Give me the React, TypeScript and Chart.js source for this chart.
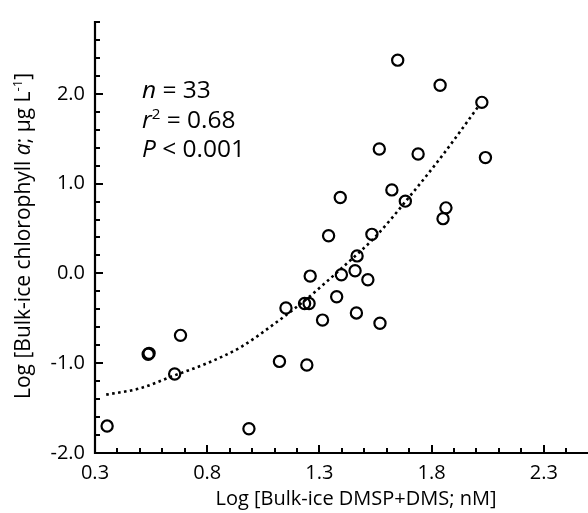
import React, { useEffect, useRef } from "react";
import { Chart, registerables } from "chart.js";

Chart.register(...registerables);

// ---- Data ----
const dmsLog = [
  0.354, 0.537, 0.541, 0.681, 0.655, 0.986, 1.122, 1.151, 1.259, 1.234, 1.254,
  1.314, 1.244, 1.377, 1.398, 1.459, 1.468, 1.516, 1.465, 1.57, 1.649, 1.838,
  2.024, 1.567, 1.74, 2.04, 1.393, 1.623, 1.683, 1.864, 1.851, 1.341, 1.534,
];
const chlLog = [
  -1.7, -0.9, -0.89, -0.69, -1.12, -1.73, -0.98, -0.385, -0.03, -0.335, -0.335,
  -0.52, -1.02, -0.26, -0.015, 0.03, 0.195, -0.07, -0.44, -0.555, 2.375, 2.095,
  1.905, 1.385, 1.33, 1.29, 0.845, 0.93, 0.805, 0.73, 0.61, 0.42, 0.435,
];
// dotted fit curve
const fitX = [0.35, 0.5, 0.65, 0.8, 0.95, 1.1, 1.25, 1.4, 1.55, 1.7, 1.85, 2.005];
const fitY = [-1.35, -1.28, -1.14, -1.0, -0.82, -0.56, -0.27, 0.06, 0.41, 0.85, 1.32, 1.847];

const xTickLabels = ["0.3", "0.8", "1.3", "1.8", "2.3"];
const yTickLabels = ["-2.0", "-1.0", "0.0", "1.0", "2.0"];
const xMin = 0.3;
const xMax = 2.4623;
const yMin = -2.0;
const yMax = 2.8;
const xMinorStep = 0.1;
const yMinorStep = 0.2;

const xTitle = "Log [Bulk-ice DMSP+DMS; nM]";
const statN = "33";
const statR2 = "0.68";
const statP = "0.001";

const FONT = '"Open Sans", "DejaVu Sans", sans-serif';
const INK = "#000";

type Seg = { t: string; italic?: boolean; sup?: boolean };

function drawSegs(ctx: CanvasRenderingContext2D, segs: Seg[], x: number, y: number, size: number, measureOnly = false) {
  let cx = x;
  for (const s of segs) {
    const fs = s.sup ? size * 0.62 : size;
    ctx.font = `${s.italic ? "italic " : ""}${fs}px ${FONT}`;
    const w = ctx.measureText(s.t).width;
    if (!measureOnly) ctx.fillText(s.t, cx, s.sup ? y - size * 0.38 : y);
    cx += w;
  }
  return cx - x;
}

const decorPlugin = {
  id: "decor",
  afterDraw(chart: any) {
    const ctx: CanvasRenderingContext2D = chart.ctx;
    const xs = chart.scales.x;
    const ys = chart.scales.y;
    const left = chart.chartArea.left;
    const bottom = chart.chartArea.bottom;
    ctx.save();
    ctx.strokeStyle = INK;
    ctx.fillStyle = INK;
    ctx.lineWidth = 2.2;
    ctx.lineCap = "butt";
    // axes
    ctx.beginPath();
    ctx.moveTo(left, ys.getPixelForValue(yMax) - 1);
    ctx.lineTo(left, bottom);
    ctx.lineTo(chart.width, bottom);
    ctx.stroke();
    ctx.lineWidth = 2;
    // x ticks (inward)
    const nx = Math.round((2.4 - xMin) / xMinorStep);
    for (let i = 0; i <= nx; i++) {
      const v = xMin + i * xMinorStep;
      const px = Math.round(xs.getPixelForValue(v));
      const len = i % 5 === 0 ? 8 : 5;
      ctx.beginPath();
      ctx.moveTo(px, bottom);
      ctx.lineTo(px, bottom - len);
      ctx.stroke();
    }
    // y ticks (inward)
    const ny = Math.round((yMax - yMin) / yMinorStep);
    for (let i = 0; i <= ny; i++) {
      const v = yMin + i * yMinorStep;
      const py = Math.round(ys.getPixelForValue(v));
      const len = i % 5 === 0 ? 8 : 5;
      ctx.beginPath();
      ctx.moveTo(left, py);
      ctx.lineTo(left + len, py);
      ctx.stroke();
    }
    // x title
    ctx.textBaseline = "alphabetic";
    ctx.textAlign = "left";
    ctx.font = `20px ${FONT}`;
    const xtw = ctx.measureText(xTitle).width;
    ctx.fillText(xTitle, 356 - xtw / 2, 505);
    // y title (rotated)
    const ySegs: Seg[] = [
      { t: "Log [Bulk-ice chlorophyll " },
      { t: "a", italic: true },
      { t: "; \u00b5g L" },
      { t: "-1", sup: true },
      { t: "]" },
    ];
    ctx.save();
    ctx.translate(30, 236);
    ctx.rotate(-Math.PI / 2);
    const tw = drawSegs(ctx, ySegs, 0, 0, 21, true);
    drawSegs(ctx, ySegs, -tw / 2, 0, 21);
    ctx.restore();
    // stats block
    const sx = 142;
    drawSegs(ctx, [{ t: "n", italic: true }, { t: " = " + statN }], sx, 98, 24.5);
    drawSegs(ctx, [{ t: "r", italic: true }, { t: "2", sup: true }, { t: " = " + statR2 }], sx, 128, 24.5);
    drawSegs(ctx, [{ t: "P", italic: true }, { t: " < " + statP }], sx, 157, 24.5);
    ctx.restore();
  },
};

export default function App() {
  const ref = useRef<HTMLCanvasElement | null>(null);
  useEffect(() => {
    if (!ref.current) return;
    const points = dmsLog.map((x, i) => ({ x, y: chlLog[i] }));
    const fit = fitX.map((x, i) => ({ x, y: fitY[i] }));
    const xTickVals = xTickLabels.map(Number);
    const yTickVals = yTickLabels.map(Number);
    const chart = new Chart(ref.current, {
      type: "scatter",
      data: {
        datasets: [
          {
            data: fit,
            showLine: true,
            borderColor: INK,
            borderWidth: 2.6,
            borderDash: [2.6, 3.4],
            pointRadius: 0,
            tension: 0.4,
            cubicInterpolationMode: "monotone",
            fill: false,
          } as any,
          {
            data: points,
            pointRadius: 5.6,
            pointBorderWidth: 2.2,
            borderColor: INK,
            pointBorderColor: INK,
            backgroundColor: "rgba(0,0,0,0)",
            pointBackgroundColor: "rgba(0,0,0,0)",
            pointStyle: "circle",
          } as any,
        ],
      },
      options: {
        responsive: false,
        maintainAspectRatio: false,
        animation: false,
        layout: { padding: { top: 12.6, left: 0, right: 0, bottom: 0 } },
        plugins: { legend: { display: false }, tooltip: { enabled: false } },
        scales: {
          x: {
            type: "linear",
            min: xMin,
            max: xMax,
            grid: { display: false, drawTicks: false },
            border: { display: false },
            afterBuildTicks: (s: any) => {
              s.ticks = xTickVals.map((v) => ({ value: v }));
            },
            afterFit: (s: any) => {
              s.height = 60;
            },
            ticks: {
              padding: 8,
              color: INK,
              font: { family: FONT, size: 20 },
              callback: (v: any) => {
                const i = xTickVals.findIndex((t) => Math.abs(t - Number(v)) < 1e-6);
                return i >= 0 ? xTickLabels[i] : "";
              },
            },
          },
          y: {
            type: "linear",
            min: yMin,
            max: yMax,
            grid: { display: false, drawTicks: false },
            border: { display: false },
            afterBuildTicks: (s: any) => {
              s.ticks = yTickVals.map((v) => ({ value: v }));
            },
            afterFit: (s: any) => {
              s.width = 95;
            },
            ticks: {
              padding: 10,
              color: INK,
              font: { family: FONT, size: 20 },
              callback: (v: any) => {
                const i = yTickVals.findIndex((t) => Math.abs(t - Number(v)) < 1e-6);
                return i >= 0 ? yTickLabels[i] : "";
              },
            },
          },
        },
      },
      plugins: [decorPlugin],
    });
    return () => chart.destroy();
  }, []);
  return (
    <div style={{ position: "fixed", left: 0, top: 0, width: 588, height: 513, background: "#fff" }}>
      <canvas ref={ref} width={588} height={513} style={{ display: "block" }} />
    </div>
  );
}
